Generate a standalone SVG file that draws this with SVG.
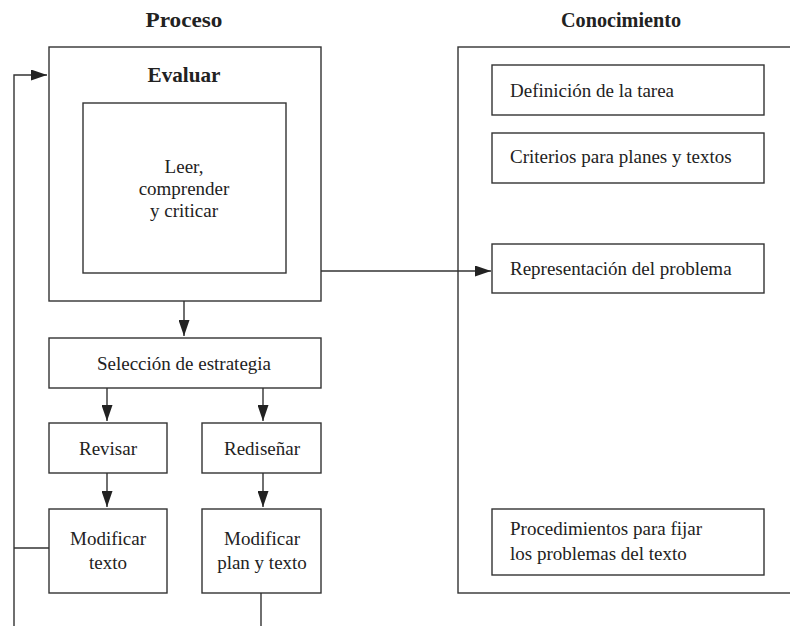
<svg xmlns="http://www.w3.org/2000/svg" width="790" height="626" viewBox="0 0 790 626">
<style>
.box{fill:none;stroke:#333;stroke-width:1.4}
.ln{fill:none;stroke:#333;stroke-width:1.4}
.t{font-family:"Liberation Serif","Times New Roman",serif;font-size:19px;fill:#222}
.c{text-anchor:middle}
.h{font-family:"Liberation Serif","Times New Roman",serif;font-size:22px;font-weight:bold;fill:#222;text-anchor:middle}
</style>
<defs>
<marker id="ah" viewBox="0 0 16 11" refX="16" refY="5.5" markerWidth="16" markerHeight="11" markerUnits="userSpaceOnUse" orient="auto">
<path d="M0,0 L16,5.5 L0,11 Z" fill="#222"/>
</marker>
</defs>
<rect width="790" height="626" fill="#fff"/>
<text class="h" x="184" y="27" textLength="77" lengthAdjust="spacingAndGlyphs">Proceso</text>
<text class="h" x="621" y="27" textLength="120" lengthAdjust="spacingAndGlyphs">Conocimiento</text>

<g id="connectors">
<path class="ln" d="M14,626 L14,75 L47,75" marker-end="url(#ah)"/>
<path class="ln" d="M49,548 L14,548"/>
<path class="ln" d="M261,593 L261,626"/>
<path class="ln" d="M321,271 L491,271" marker-end="url(#ah)"/>
<path class="ln" d="M184,301 L184,336" marker-end="url(#ah)"/>
<path class="ln" d="M107,388 L107,421" marker-end="url(#ah)"/>
<path class="ln" d="M263,388 L263,421" marker-end="url(#ah)"/>
<path class="ln" d="M107,473 L107,507" marker-end="url(#ah)"/>
<path class="ln" d="M263,473 L263,507" marker-end="url(#ah)"/>
</g>

<g id="evaluar">
<rect class="box" x="49" y="47" width="272" height="254"/>
<text class="h" x="184" y="82" textLength="73" lengthAdjust="spacingAndGlyphs">Evaluar</text>
</g>
<g id="leer">
<rect class="box" x="83" y="103" width="203" height="170"/>
<text class="t c" x="184" y="173">Leer,</text>
<text class="t c" x="184" y="195">comprender</text>
<text class="t c" x="184" y="217">y criticar</text>
</g>
<g id="seleccion">
<rect class="box" x="49" y="338" width="272" height="50"/>
<text class="t c" x="184" y="370">Selección de estrategia</text>
</g>
<g id="revisar">
<rect class="box" x="49" y="423" width="118" height="50"/>
<text class="t c" x="108" y="455">Revisar</text>
</g>
<g id="redisenar">
<rect class="box" x="202" y="423" width="119" height="50"/>
<text class="t c" x="262" y="455">Rediseñar</text>
</g>
<g id="modificar-texto">
<rect class="box" x="49" y="509" width="118" height="84"/>
<text class="t c" x="108" y="545">Modificar</text>
<text class="t c" x="108" y="569">texto</text>
</g>
<g id="modificar-plan">
<rect class="box" x="202" y="509" width="119" height="84"/>
<text class="t c" x="262" y="545">Modificar</text>
<text class="t c" x="262" y="569">plan y texto</text>
</g>

<g id="conocimiento">
<rect class="box" x="458" y="47" width="340" height="546"/>
</g>
<g id="definicion">
<rect class="box" x="492" y="65" width="272" height="50"/>
<text class="t" x="510" y="97">Definición de la tarea</text>
</g>
<g id="criterios">
<rect class="box" x="492" y="133" width="272" height="50"/>
<text class="t" x="510" y="163">Criterios para planes y textos</text>
</g>
<g id="representacion">
<rect class="box" x="492" y="244" width="272" height="49"/>
<text class="t" x="510" y="275">Representación del problema</text>
</g>
<g id="procedimientos">
<rect class="box" x="492" y="509" width="272" height="66"/>
<text class="t" x="510" y="535">Procedimientos para fijar</text>
<text class="t" x="510" y="560">los problemas del texto</text>
</g>
</svg>
